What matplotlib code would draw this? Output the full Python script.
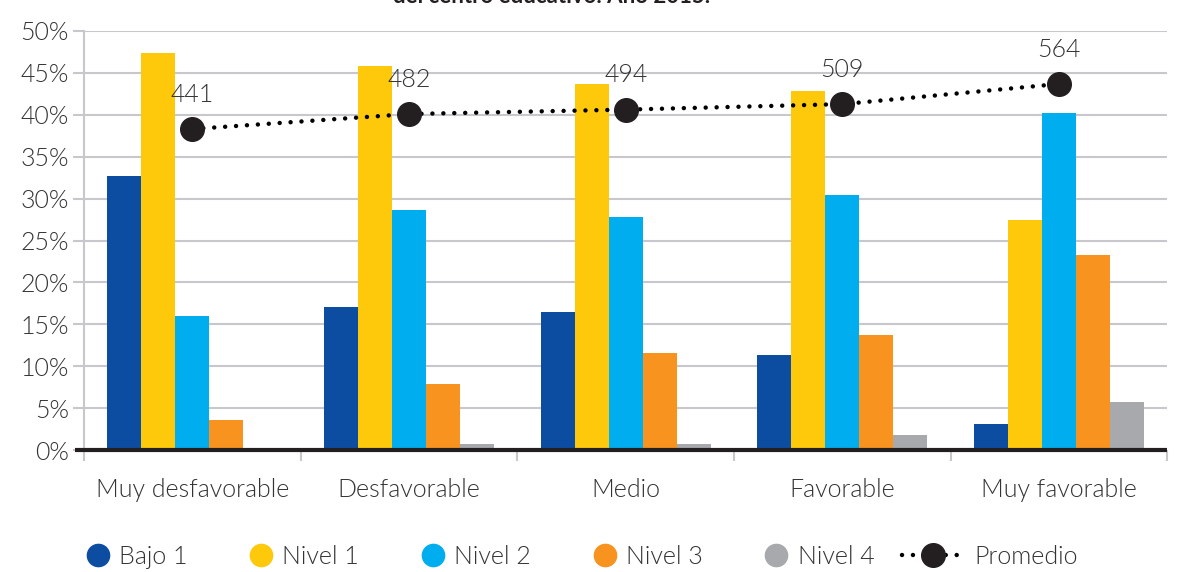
import matplotlib
matplotlib.use("Agg")
import matplotlib.pyplot as plt
import matplotlib.transforms as mtransforms
from matplotlib.lines import Line2D
import numpy as np

categories = ["Muy desfavorable", "Desfavorable", "Medio", "Favorable", "Muy favorable"]
series_names = ["Bajo 1", "Nivel 1", "Nivel 2", "Nivel 3", "Nivel 4"]
bajo1 = [32.7, 17.1, 16.5, 11.3, 3.1]
nivel1 = [47.4, 45.8, 43.7, 42.8, 27.4]
nivel2 = [16.0, 28.6, 27.8, 30.4, 40.2]
nivel3 = [3.6, 7.9, 11.6, 13.7, 23.3]
nivel4 = [0.0, 0.7, 0.7, 1.8, 5.7]
promedio = [441, 482, 494, 509, 564]
yticks = [0, 5, 10, 15, 20, 25, 30, 35, 40, 45, 50]
title_text = "del centro educativo. Año 2015."

colors = ["#0c4da2", "#fec90b", "#00aeef", "#f7931e", "#a7a9ac"]
text_color = "#333333"
grid_color = "#c8c8cc"
dark = "#231f20"
dot_style = (0, (0.01, 2.45))
WEIGHT = 300

plt.rcParams["font.family"] = ["Lato", "DejaVu Sans"]
FS = 18

fig = plt.figure(figsize=(11.84, 5.72), dpi=100)
ax = fig.add_axes([0.071, 0.213, 0.915, 0.733])

values = [bajo1, nivel1, nivel2, nivel3, nivel4]
x = np.arange(len(categories))
width = 0.157
for i, (vals, col, name) in enumerate(zip(values, colors, series_names)):
    ax.bar(x + (i - 2) * width, vals, width=width, color=col, label=name,
           zorder=2, linewidth=0)

ax.set_xlim(-0.5, len(categories) - 0.5)
ax.set_ylim(0, 50)
ax.set_yticks(yticks)
ax.set_yticklabels([f"{v}%" for v in yticks], fontsize=FS, color=text_color,
                   fontweight=WEIGHT)
ax.yaxis.grid(True, color=grid_color, linewidth=1.5, zorder=0)
ax.set_axisbelow(True)
ax.tick_params(axis="y", length=8, width=1.5, color=grid_color, pad=3)

# category boundaries as minor ticks, labels at centres
ax.set_xticks(x)
ax.set_xticklabels(categories, fontsize=FS, color=text_color, fontweight=WEIGHT)
ax.tick_params(axis="x", which="major", length=0, pad=20)
ax.set_xticks(np.arange(-0.5, len(categories)), minor=True)
ax.tick_params(axis="x", which="minor", length=8, width=1.5, color=grid_color)

for side in ["top", "right", "bottom"]:
    ax.spines[side].set_visible(False)
ax.spines["left"].set_color(grid_color)
ax.spines["left"].set_linewidth(1.5)

# dark baseline, reaching slightly left of the vertical axis
base_tr = mtransforms.blended_transform_factory(ax.transAxes, ax.transData)
ax.add_line(Line2D([-0.008, 1.0], [0, 0], transform=base_tr, color=dark,
                   linewidth=3, clip_on=False, zorder=5,
                   solid_capstyle="butt"))

# average score on a hidden secondary scale
ax2 = ax.twinx()
ax2.set_ylim(-436, 709)
ax2.axis("off")
ax2.plot(x, promedio, linestyle=dot_style, color="black", linewidth=3.2,
         dash_capstyle="round", marker="o", markersize=17,
         markerfacecolor=dark, markeredgecolor=dark, zorder=6)
for xi, v in zip(x, promedio):
    ax2.annotate(str(v), (xi, v), xytext=(0, 16), textcoords="offset points",
                 ha="center", va="bottom", fontsize=FS, color=text_color,
                 fontweight=WEIGHT)

fig.text(0.466, 1 - 3 / 572, title_text, ha="center", va="baseline",
         fontsize=16, fontweight="bold", color=dark)

# legend: bar series
handles = [Line2D([0], [0], marker="o", color="none", markerfacecolor=c,
                  markeredgecolor=c, markersize=16, label=n)
           for c, n in zip(colors, series_names)]
leg = fig.legend(handles=handles, loc="center left", ncol=5,
                 bbox_to_anchor=(0.072, 0.026), frameon=False,
                 fontsize=FS, handlelength=1.0, handletextpad=0.35,
                 columnspacing=2.45, borderpad=0, borderaxespad=0)
for t in leg.get_texts():
    t.set_color(text_color)
    t.set_fontweight(WEIGHT)

# legend: average line
avg_handle = Line2D([0], [0], linestyle=dot_style, color="black",
                    linewidth=3.2, dash_capstyle="round", marker="o",
                    markersize=17, markerfacecolor=dark,
                    markeredgecolor=dark, label="Promedio")
leg2 = fig.legend(handles=[avg_handle], loc="center left",
                  bbox_to_anchor=(0.762, 0.026), frameon=False,
                  fontsize=FS, handlelength=2.5, handletextpad=0.4,
                  borderpad=0, borderaxespad=0, numpoints=1)
for t in leg2.get_texts():
    t.set_color(text_color)
    t.set_fontweight(WEIGHT)

fig.savefig("out.png", dpi=100)
